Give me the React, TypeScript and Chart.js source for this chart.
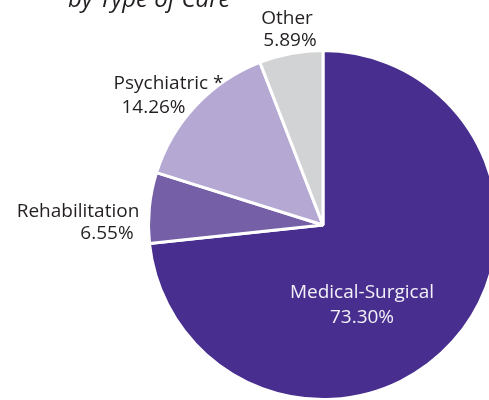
import React, { useEffect, useRef } from "react";
import { Chart, registerables } from "chart.js";

Chart.register(...registerables);

const categories = ["Medical-Surgical", "Rehabilitation", "Psychiatric *", "Other"];
const shares = [73.3, 6.55, 14.26, 5.89];
const shareLabels = ["73.30%", "6.55%", "14.26%", "5.89%"];
const sliceColors = ["#472e8f", "#7560a8", "#b5a9d4", "#d1d3d4"];
const titleText = "by Type of Care";

// label placement (offsets from pie centre, px): [line1 dx, line1 dy, line2 dx, line2 dy]
const labelPlacement = [
  [39, 73, 39, 98],
  [-245, -8, -216, 14],
  [-154.5, -136, -169.5, -112],
  [-36, -201, -33, -179],
];
const labelColors = ["#f3f1f8", "#231f20", "#231f20", "#231f20"];

const labelPlugin = {
  id: "sliceLabels",
  afterDraw(chart: any) {
    const ctx = chart.ctx;
    const meta = chart.getDatasetMeta(0);
    const arc = meta.data[0];
    if (!arc) return;
    const cx = arc.x;
    const cy = arc.y;
    ctx.save();
    ctx.font = "19px 'Open Sans'";
    ctx.textAlign = "center";
    ctx.textBaseline = "alphabetic";
    categories.forEach((name, i) => {
      const p = labelPlacement[i];
      ctx.fillStyle = labelColors[i];
      ctx.fillText(name, cx + p[0], cy + p[1]);
      ctx.fillText(shareLabels[i], cx + p[2], cy + p[3]);
    });
    ctx.font = "italic 24px 'Open Sans'";
    ctx.textAlign = "left";
    ctx.fillStyle = "#231f20";
    ctx.fillText(titleText, 68, 6.5);
    ctx.restore();
  },
};

export default function App() {
  const ref = useRef<HTMLCanvasElement | null>(null);
  useEffect(() => {
    document.body.style.margin = "0";
    if (!ref.current) return;
    const chart = new Chart(ref.current, {
      type: "pie",
      data: {
        labels: categories,
        datasets: [
          {
            data: shares,
            backgroundColor: sliceColors,
            borderColor: "#ffffff",
            borderWidth: 3,
            hoverOffset: 0,
          },
        ],
      },
      options: {
        responsive: false,
        animation: false,
        radius: 174.5,
        layout: { padding: { left: 106, right: 0, top: 10, bottom: 0 } },
        plugins: {
          legend: { display: false },
          tooltip: { enabled: false },
          title: { display: false },
        },
      } as any,
      plugins: [labelPlugin],
    });
    return () => chart.destroy();
  }, []);
  return (
    <div style={{ width: 489, height: 400, overflow: "hidden", position: "relative", background: "#fff" }}>
      <canvas ref={ref} width={540} height={440} style={{ display: "block", width: 540, height: 440 }} />
    </div>
  );
}
